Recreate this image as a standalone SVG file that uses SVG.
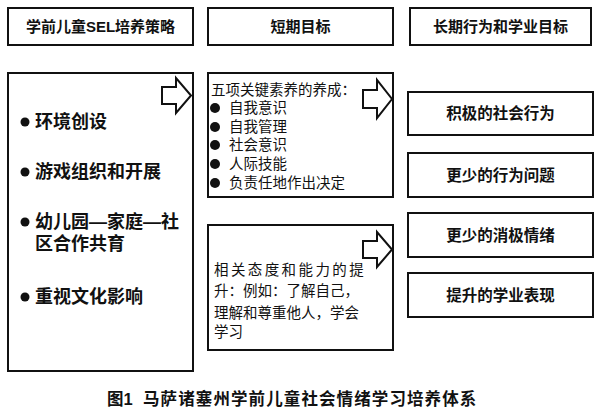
<svg xmlns="http://www.w3.org/2000/svg" width="598" height="417" viewBox="0 0 598 417">
<style>
.box{fill:#fff;stroke:#111;stroke-width:2}
.arr{fill:#fff;stroke:#111;stroke-width:2;stroke-linejoin:miter}
text{font-family:"Liberation Sans","Noto Sans CJK SC",sans-serif;fill:#111}
.h{font-size:15px;font-weight:bold;text-anchor:middle}
.l{font-size:18px;font-weight:bold}
.m{font-size:14.5px}
.r{font-size:15.5px;font-weight:bold;text-anchor:middle}
.cap{font-size:16.5px;font-weight:bold}
.dot{fill:#111}
</style>
<rect width="598" height="417" fill="#fff"/>
<g id="header1"><rect class="box" x="8" y="8" width="185" height="37"/><text class="h" x="100.5" y="32">学前儿童SEL培养策略</text></g>
<g id="header2"><rect class="box" x="208" y="8" width="185" height="37"/><text class="h" x="300.5" y="32">短期目标</text></g>
<g id="header3"><rect class="box" x="410" y="8" width="181" height="37"/><text class="h" x="500.5" y="32">长期行为和学业目标</text></g>
<g id="strategies">
<rect class="box" x="8" y="73" width="185" height="298"/>
<circle class="dot" cx="25" cy="122" r="4.5"/><text class="l" x="35" y="128">环境创设</text>
<circle class="dot" cx="25" cy="172" r="4.5"/><text class="l" x="35" y="178">游戏组织和开展</text>
<circle class="dot" cx="25" cy="222" r="4.5"/><text class="l" x="35" y="228">幼儿园—家庭—社</text>
<text class="l" x="35" y="250">区合作共育</text>
<circle class="dot" cx="25" cy="297" r="4.5"/><text class="l" x="35" y="303">重视文化影响</text>
</g>
<g id="short1">
<rect class="box" x="208" y="73" width="185" height="124"/>
<text class="m" x="211" y="95">五项关键素养的养成：</text>
<circle class="dot" cx="215" cy="108" r="5"/><text class="m" x="229" y="113">自我意识</text>
<circle class="dot" cx="215" cy="127" r="5"/><text class="m" x="229" y="132">自我管理</text>
<circle class="dot" cx="215" cy="145" r="5"/><text class="m" x="229" y="150">社会意识</text>
<circle class="dot" cx="215" cy="164" r="5"/><text class="m" x="229" y="169">人际技能</text>
<circle class="dot" cx="215" cy="183" r="5"/><text class="m" x="229" y="188">负责任地作出决定</text>
</g>
<g id="short2">
<rect class="box" x="208" y="225" width="185" height="125"/>
<text class="m" x="214" y="275" letter-spacing="2.4">相关态度和能力的提</text>
<text class="m" x="214" y="296">升：例如：了解自己，</text>
<text class="m" x="214" y="318">理解和尊重他人，学会</text>
<text class="m" x="214" y="337">学习</text>
</g>
<g id="long1"><rect class="box" x="408" y="92" width="185" height="43"/><text class="r" x="500.5" y="119">积极的社会行为</text></g>
<g id="long2"><rect class="box" x="408" y="153" width="185" height="44"/><text class="r" x="500.5" y="180.5">更少的行为问题</text></g>
<g id="long3"><rect class="box" x="408" y="213" width="185" height="44"/><text class="r" x="500.5" y="240.5">更少的消极情绪</text></g>
<g id="long4"><rect class="box" x="408" y="273" width="185" height="44"/><text class="r" x="500.5" y="300.5">提升的学业表现</text></g>
<g id="connectors">
<path class="arr" d="M162,87 H176 V78 L191,95.5 L176,113 V104 H162 Z"/>
<path class="arr" d="M363,90 H377 V80 L392,99 L377,118 V108 H363 Z"/>
<path class="arr" d="M363,241 H377 V232 L392,249.5 L377,267 V258 H363 Z"/>
</g>
<text class="cap" y="405"><tspan x="107">图1</tspan><tspan x="143" letter-spacing="1.1">马萨诸塞州学前儿童社会情绪学习培养体系</tspan></text>
</svg>
